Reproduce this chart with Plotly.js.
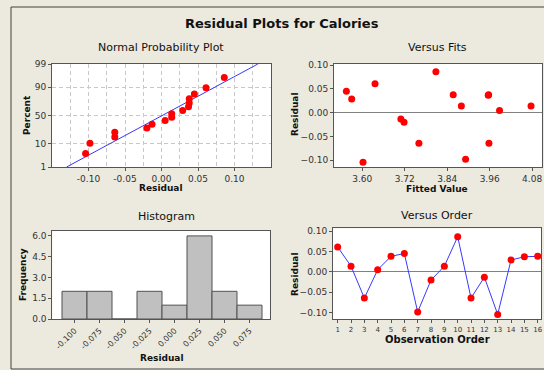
<!DOCTYPE html>
<html>
<head>
<meta charset="utf-8">
<script src="https://cdn.plot.ly/plotly-3.0.1.min.js"></script>
<style>
html,body{margin:0;padding:0;background:#ECE9DE;}
#chart{width:544px;height:370px;}
</style>
</head>
<body>
<div id="chart"></div>
<script>
// ---- data ----
const observationOrder = [1,2,3,4,5,6,7,8,9,10,11,12,13,14,15,16];
const residuals = [0.061, 0.014, -0.064, 0.005, 0.038, 0.045, -0.098, -0.020, 0.014, 0.086, -0.064, -0.013, -0.104, 0.029, 0.037, 0.038];
const fittedValues = [3.636, 3.880, 3.760, 3.988, 3.857, 3.555, 3.892, 3.718, 4.077, 3.808, 3.958, 3.709, 3.602, 3.570, 3.956, 3.957];
const probPercents = [4.3, 10.4, 16.5, 22.6, 28.7, 34.8, 40.9, 47.0, 53.0, 59.1, 65.2, 71.3, 77.4, 83.5, 89.6, 95.7];
const fitLineResidual = [-0.130, 0.132];
const fitLinePercent = [1, 99];
const probTickPercents = [1, 10, 50, 90, 99];
const probTickLabels = ['1', '10', '50', '90', '99'];
const histBinCenters = [-0.100, -0.075, -0.050, -0.025, 0.000, 0.025, 0.050, 0.075];
const histCounts = [2, 2, 0, 2, 1, 6, 2, 1];
const histTickLabels = ['-0.100', '-0.075', '-0.050', '-0.025', '0.000', '0.025', '0.050', '0.075'];

// normal probability scale (inverse normal CDF, Acklam)
function probit(pct) {
  const p = pct / 100;
  const a = [-3.969683028665376e+01, 2.209460984245205e+02, -2.759285104469687e+02, 1.383577518672690e+02, -3.066479806614716e+01, 2.506628277459239e+00];
  const b = [-5.447609879822406e+01, 1.615858368580409e+02, -1.556989798598866e+02, 6.680131188771972e+01, -1.328068155288572e+01];
  const c = [-7.784894002430293e-03, -3.223964580411365e-01, -2.400758277161838e+00, -2.549732539343734e+00, 4.374664141464968e+00, 2.938163982698783e+00];
  const d = [7.784695709041462e-03, 3.224671290700398e-01, 2.445134137142996e+00, 3.754408661907416e+00];
  const pl = 0.02425, ph = 1 - pl;
  let q, r;
  if (p < pl) { q = Math.sqrt(-2*Math.log(p)); return (((((c[0]*q+c[1])*q+c[2])*q+c[3])*q+c[4])*q+c[5])/((((d[0]*q+d[1])*q+d[2])*q+d[3])*q+1); }
  if (p <= ph) { q = p - 0.5; r = q*q; return (((((a[0]*r+a[1])*r+a[2])*r+a[3])*r+a[4])*r+a[5])*q/(((((b[0]*r+b[1])*r+b[2])*r+b[3])*r+b[4])*r+1); }
  q = Math.sqrt(-2*Math.log(1-p)); return -(((((c[0]*q+c[1])*q+c[2])*q+c[3])*q+c[4])*q+c[5])/((((d[0]*q+d[1])*q+d[2])*q+d[3])*q+1);
}

const sortedResiduals = residuals.slice().sort((a,b)=>a-b);

// ---- layout helpers (pixel -> paper) ----
const W = 544, H = 370;
const px = v => v / W;
const py = v => 1 - v / H;
const FONT = 'DejaVu Sans, Verdana, sans-serif';
const RED = '#FF0000', BLUE = '#3838FF', AX = '#555555';
const GRID = '#C8C8C8', DASH = '4px,3px';

const baseAxis = {
  showline: true, mirror: true, linecolor: AX, linewidth: 1,
  ticks: 'outside', ticklen: 3, tickcolor: AX, tickwidth: 1,
  showgrid: false, zeroline: false,
  tickfont: {family: FONT, size: 9, color: '#333'},
  fixedrange: true
};

const traces = [
  // Normal probability plot
  {type:'scatter', mode:'lines', x: fitLineResidual, y: fitLinePercent.map(probit),
   line:{color:BLUE, width:1}, xaxis:'x', yaxis:'y', hoverinfo:'skip'},
  {type:'scatter', mode:'markers', x: sortedResiduals, y: probPercents.map(probit),
   marker:{color:RED, size:7}, xaxis:'x', yaxis:'y'},
  // Versus fits
  {type:'scatter', mode:'markers', x: fittedValues, y: residuals,
   marker:{color:RED, size:7}, xaxis:'x2', yaxis:'y2'},
  // Histogram
  {type:'bar', x: histBinCenters, y: histCounts, width: 0.025,
   marker:{color:'#C0C0C0', line:{color:'#505050', width:1}}, xaxis:'x3', yaxis:'y3'},
  // Versus order
  {type:'scatter', mode:'lines+markers', x: observationOrder, y: residuals,
   line:{color:BLUE, width:1}, marker:{color:RED, size:7}, xaxis:'x4', yaxis:'y4'}
];

const zLo = probit(1), zHi = probit(99);

const layout = {
  width: W, height: H,
  margin: {l:0, r:0, t:0, b:0},
  paper_bgcolor: '#ECE9DE', plot_bgcolor: '#FFFFFF',
  showlegend: false, bargap: 0,
  font: {family: FONT, color: '#222'},
  xaxis: Object.assign({}, baseAxis, {
    domain:[px(52), px(271)], anchor:'y', range:[-0.15, 0.15],
    tickvals:[-0.10,-0.05,0,0.05,0.10], ticktext:['-0.10','-0.05','0.00','0.05','0.10'],
    showgrid:true, gridcolor:GRID, griddash:DASH, gridwidth:1,
    minor:{dtick:0.025, tick0:0, showgrid:true, gridcolor:GRID, griddash:DASH, ticks:''}
  }),
  yaxis: Object.assign({}, baseAxis, {
    domain:[py(167), py(64)], anchor:'x', range:[zLo, zHi],
    tickvals: probTickPercents.map(probit), ticktext: probTickLabels,
    showgrid:true, gridcolor:GRID, griddash:DASH, gridwidth:1
  }),
  xaxis2: Object.assign({}, baseAxis, {
    domain:[px(334), px(542)], anchor:'y2', range:[3.52, 4.108],
    tickvals:[3.60,3.72,3.84,3.96,4.08], tickformat:'.2f'
  }),
  yaxis2: Object.assign({}, baseAxis, {
    domain:[py(167.3), py(63.5)], anchor:'x2', range:[-0.1147, 0.1036],
    tickvals:[-0.10,-0.05,0,0.05,0.10], tickformat:'.2f',
    zeroline:true, zerolinecolor:'#808080', zerolinewidth:1
  }),
  xaxis3: Object.assign({}, baseAxis, {
    domain:[px(52.3), px(270.3)], anchor:'y3', range:[-0.1222, 0.0958],
    tickvals: histBinCenters, ticktext: histTickLabels, tickangle:-45,
    tickfont:{family:FONT, size:8, color:'#333'}
  }),
  yaxis3: Object.assign({}, baseAxis, {
    domain:[py(319), py(230.5)], anchor:'x3', range:[0, 6.39],
    tickvals:[0,1.5,3,4.5,6], tickformat:'.1f'
  }),
  xaxis4: Object.assign({}, baseAxis, {
    domain:[px(333), px(541.3)], anchor:'y4', range:[0.65, 16.27],
    tickvals: observationOrder, tickfont:{family:FONT, size:7, color:'#333'}
  }),
  yaxis4: Object.assign({}, baseAxis, {
    domain:[py(319.3), py(228.3)], anchor:'x4', range:[-0.116, 0.1066],
    tickvals:[-0.10,-0.05,0,0.05,0.10], tickformat:'.2f',
    zeroline:true, zerolinecolor:'#808080', zerolinewidth:1
  }),
  shapes: [
    {type:'rect', xref:'paper', yref:'paper', x0:px(11), x1:px(600), y0:py(369), y1:py(7),
     line:{color:'#404040', width:1}, fillcolor:'rgba(0,0,0,0)', layer:'below'}
  ],
  annotations: [
    {text:'<b>Residual Plots for Calories</b>', x:px(282), y:py(23), font:{size:13}},
    {text:'Normal Probability Plot', x:px(160.5), y:py(47.5), font:{size:11}},
    {text:'Versus Fits', x:px(437), y:py(47.5), font:{size:11}},
    {text:'Histogram', x:px(166), y:py(216), font:{size:11}},
    {text:'Versus Order', x:px(437), y:py(215.5), font:{size:11}},
    {text:'<b>Residual</b>', x:px(160), y:py(187.5), font:{size:9}},
    {text:'<b>Percent</b>', x:px(27), y:py(115), textangle:-90, font:{size:9}},
    {text:'<b>Fitted Value</b>', x:px(437), y:py(189), font:{size:9}},
    {text:'<b>Residual</b>', x:px(295), y:py(115), textangle:-90, font:{size:9}},
    {text:'<b>Frequency</b>', x:px(23), y:py(275), textangle:-90, font:{size:9}},
    {text:'<b>Residual</b>', x:px(161), y:py(357.5), font:{size:9}},
    {text:'<b>Residual</b>', x:px(295), y:py(275), textangle:-90, font:{size:9}},
    {text:'<b>Observation Order</b>', x:px(437), y:py(339), font:{size:10}}
  ].map(a => Object.assign({xref:'paper', yref:'paper', showarrow:false, xanchor:'center', yanchor:'middle'}, a,
        {font: Object.assign({family:FONT, color:'#111'}, a.font)}))
};

Plotly.newPlot('chart', traces, layout, {displayModeBar:false, staticPlot:true});
</script>
</body>
</html>
